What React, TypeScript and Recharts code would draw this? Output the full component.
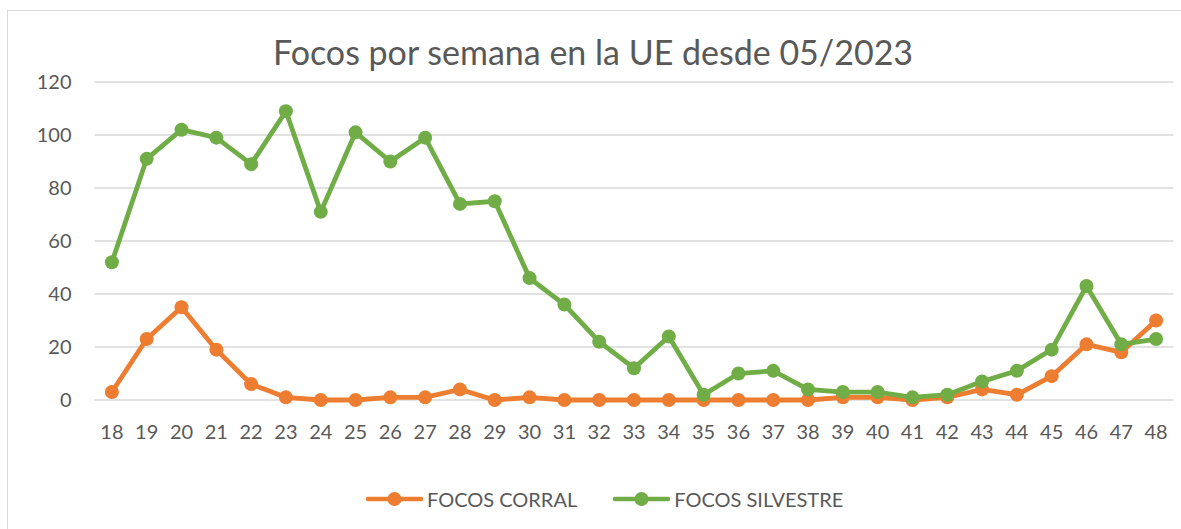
import React from "react";
import { LineChart, Line, XAxis, YAxis, CartesianGrid } from "recharts";

const weeks = ["18","19","20","21","22","23","24","25","26","27","28","29","30","31","32","33","34","35","36","37","38","39","40","41","42","43","44","45","46","47","48"];
const focosCorral = [3,23,35,19,6,1,0,0,1,1,4,0,1,0,0,0,0,0,0,0,0,1,1,0,1,4,2,9,21,18,30];
const focosSilvestre = [52,91,102,99,89,109,71,101,90,99,74,75,46,36,22,12,24,2,10,11,4,3,3,1,2,7,11,19,43,21,23];
const yTicks = [0,20,40,60,80,100,120];
const seriesNames = ["FOCOS CORRAL", "FOCOS SILVESTRE"];
const title = "Focos por semana en la UE desde 05/2023";

const ORANGE = "#ED7D31";
const GREEN = "#70AD47";
const TEXT = "#595959";
const FONT = "Lato, 'Open Sans', sans-serif";

const data = weeks.map((w, i) => ({ week: w, corral: focosCorral[i], silvestre: focosSilvestre[i] }));

function LegendItem({ color, label }: { color: string; label: string }) {
  return (
    <div style={{ display: "flex", alignItems: "center", marginRight: 36 }}>
      <svg width={57} height={16} style={{ marginRight: 4 }}>
        <line x1={2} y1={8} x2={55} y2={8} stroke={color} strokeWidth={4.5} strokeLinecap="round" />
        <circle cx={28.5} cy={8} r={7} fill={color} />
      </svg>
      <span style={{ fontSize: 20, color: TEXT, fontFamily: FONT }}>{label}</span>
    </div>
  );
}

export default function App() {
  return (
    <div style={{ position: "fixed", left: 0, top: 0, width: 1181, height: 529, overflow: "hidden", background: "#fff" }}>
      <div style={{ position: "absolute", left: 7, top: 10, width: 1190, height: 600, border: "1px solid #d9d9d9" }} />
      <div style={{ position: "absolute", left: 0, top: 31, width: 1186, textAlign: "center", fontFamily: FONT, fontSize: 34, lineHeight: "42px", color: TEXT }}>
        {title}
      </div>
      <div style={{ position: "absolute", left: 0, top: 0 }}>
        <LineChart width={1181} height={529} data={data} margin={{ top: 82, right: 7.5, bottom: 99, left: 34.5 }}>
          <CartesianGrid vertical={false} stroke="#d9d9d9" strokeWidth={1.3} />
          <XAxis
            dataKey="week"
            axisLine={false}
            tickLine={false}
            tickSize={0}
            tickMargin={25}
            height={30}
            interval={0}
            padding={{ left: 17.4, right: 17.4 }}
            tick={{ fill: TEXT, fontSize: 20, fontFamily: FONT }}
          />
          <YAxis
            domain={[0, 120]}
            ticks={yTicks}
            axisLine={false}
            tickLine={false}
            tickSize={0}
            tickMargin={23}
            width={60}
            tick={{ fill: TEXT, fontSize: 20, fontFamily: FONT }}
          />
          <Line dataKey="corral" name={seriesNames[0]} stroke={ORANGE} strokeWidth={4.8} dot={{ r: 7, fill: ORANGE, stroke: ORANGE, strokeWidth: 0 }} isAnimationActive={false} />
          <Line dataKey="silvestre" name={seriesNames[1]} stroke={GREEN} strokeWidth={4.8} dot={{ r: 7, fill: GREEN, stroke: GREEN, strokeWidth: 0 }} isAnimationActive={false} />
        </LineChart>
      </div>
      <div style={{ position: "absolute", left: 366, top: 487, display: "flex", alignItems: "center" }}>
        <LegendItem color={ORANGE} label={seriesNames[0]} />
        <LegendItem color={GREEN} label={seriesNames[1]} />
      </div>
    </div>
  );
}
